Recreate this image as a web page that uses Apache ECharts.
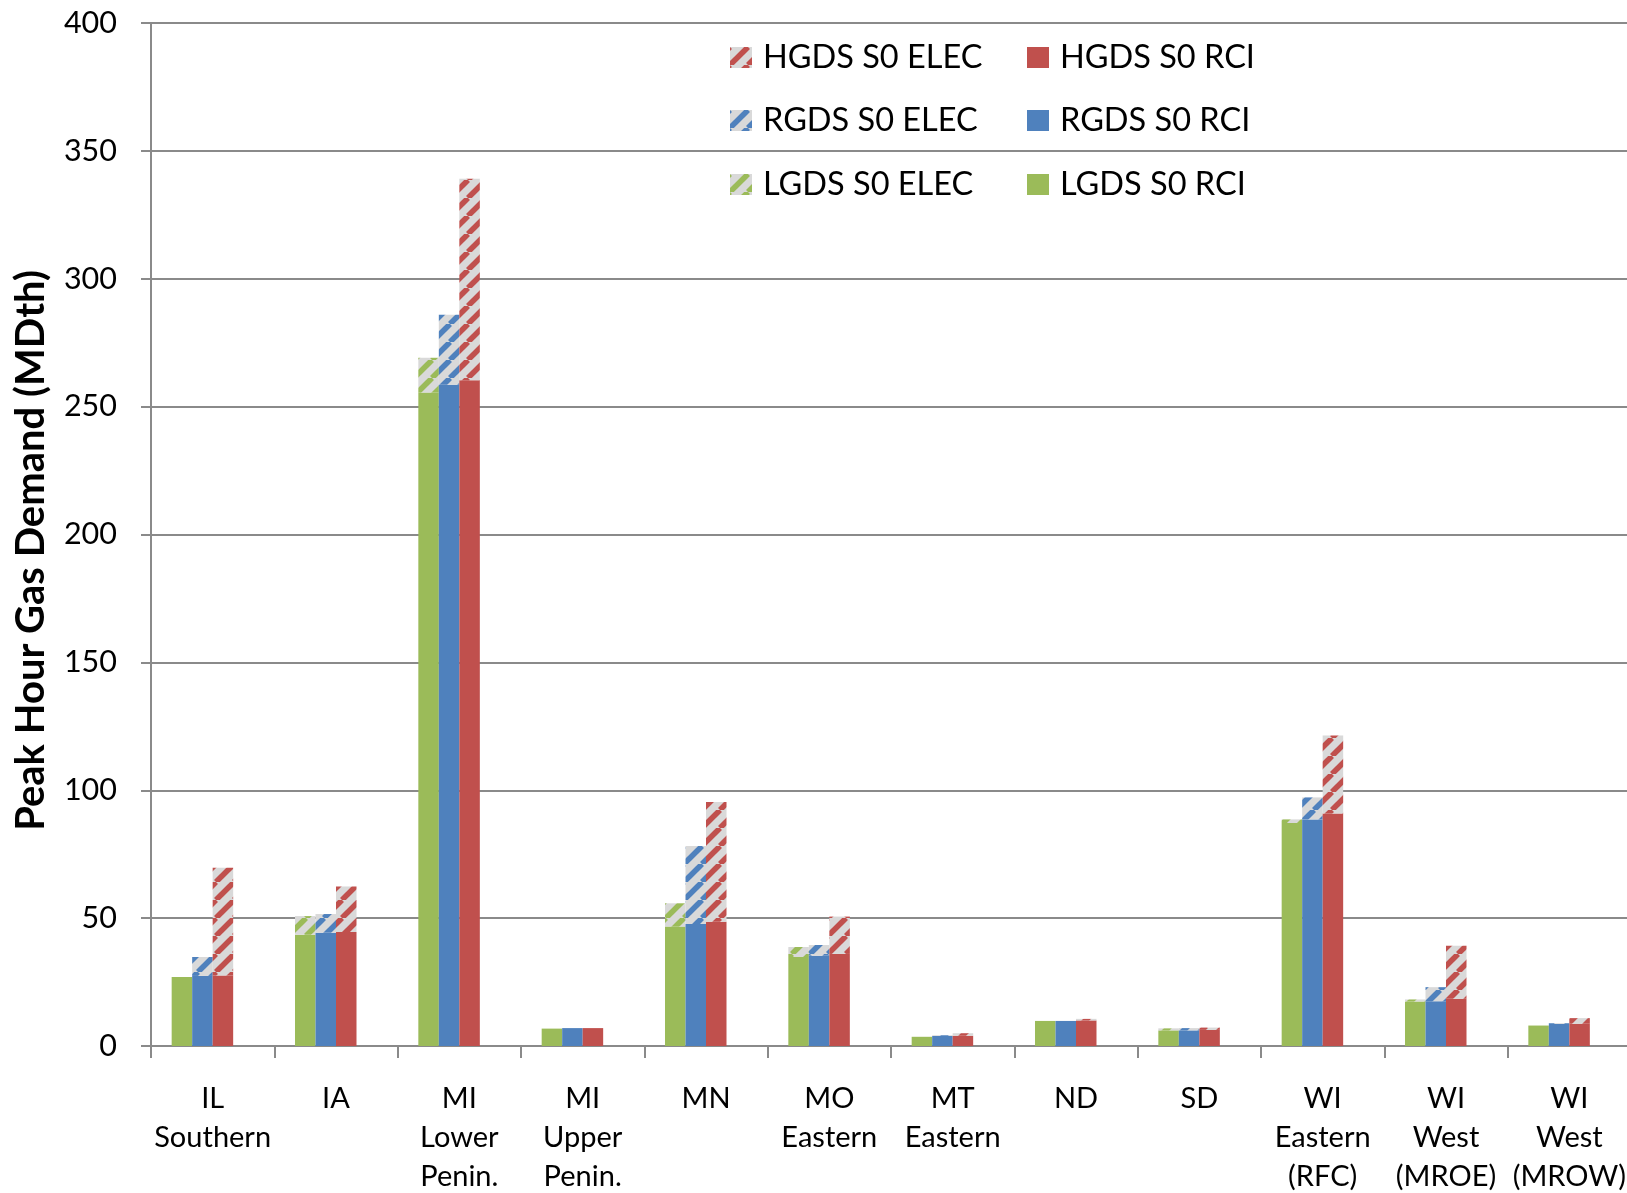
<!DOCTYPE html>
<html>
<head>
<meta charset="utf-8">
<script src="https://cdn.jsdelivr.net/npm/echarts@6/dist/echarts.min.js"></script>
<style>
html,body{margin:0;padding:0;background:#fff;}
#chart{width:1627px;height:1193px;}
</style>
</head>
<body>
<div id="chart"></div>
<script>
const categories = ['IL\nSouthern','IA','MI\nLower\nPenin.','MI\nUpper\nPenin.','MN','MO\nEastern','MT\nEastern','ND','SD','WI\nEastern\n(RFC)','WI\nWest\n(MROE)','WI\nWest\n(MROW)'];
const lgdsRCI  = [27.0, 43.5, 255.5, 6.8, 46.7, 34.8, 3.6, 9.8, 6.1, 87.2, 17.4, 8.0];
const lgdsELEC = [0,    7.3,  13.6,  0,   9.1,  3.9,  0,   0,   0.8, 1.4,  0.8,  0];
const rgdsRCI  = [27.4, 44.3, 258.6, 7.0, 47.7, 35.3, 3.9, 9.8, 6.1, 88.6, 17.5, 8.6];
const rgdsELEC = [7.4,  7.3,  27.3,  0,   30.5, 4.2,  0.3, 0,   0.9, 8.6,  5.5,  0.3];
const hgdsRCI  = [27.6, 44.6, 260.3, 7.0, 48.6, 36.0, 4.0, 10.0, 6.3, 90.9, 18.5, 8.7];
const hgdsELEC = [42.1, 17.8, 78.8,  0,   46.8, 14.6, 1.0, 0.6, 0.9, 30.5, 20.7, 2.2];
const yTicks = [0, 50, 100, 150, 200, 250, 300, 350, 400];

const GREEN = '#9BBB59', BLUE = '#4F81BD', RED = '#C0504D';
const FONT = 'Lato';

function stripes(color) {
  const P = 18;
  const c = document.createElement('canvas');
  c.width = P; c.height = P;
  const g = c.getContext('2d');
  g.fillStyle = '#d9d9d9';
  g.fillRect(0, 0, P, P);
  g.strokeStyle = color;
  g.lineWidth = 5.5;
  for (const x0 of [-P, 0, P]) {
    g.beginPath();
    g.moveTo(x0, P);
    g.lineTo(x0 + P, 0);
    g.stroke();
  }
  return { image: c, repeat: 'repeat' };
}

const BW = 20.5;
function bar(name, stack, data, color) {
  return { name, type: 'bar', stack, data, barWidth: BW, barGap: '0%',
           itemStyle: { color }, emphasis: { disabled: true } };
}

const series = [
  bar('LGDS S0 RCI', 'L', lgdsRCI, GREEN),
  bar('LGDS S0 ELEC', 'L', lgdsELEC, stripes(GREEN)),
  bar('RGDS S0 RCI', 'R', rgdsRCI, BLUE),
  bar('RGDS S0 ELEC', 'R', rgdsELEC, stripes(BLUE)),
  bar('HGDS S0 RCI', 'H', hgdsRCI, RED),
  bar('HGDS S0 ELEC', 'H', hgdsELEC, stripes(RED)),
  { name: 'spacer', type: 'bar', stack: 'D', data: categories.map(() => 0), barWidth: BW, barGap: '0%',
    itemStyle: { color: 'rgba(0,0,0,0)' }, silent: true }
];

function leg(name, left, top) {
  return { data: [name], left, top, padding: 0, itemWidth: 22, itemHeight: 21, itemGap: 0,
           icon: 'rect', selectedMode: false,
           textStyle: { fontFamily: FONT, fontSize: 32.5, color: '#000', padding: [0, 0, 0, 6], lineHeight: 21 } };
}

const chart = echarts.init(document.getElementById('chart'), null, { renderer: 'canvas' });
chart.setOption({
  animation: false,
  backgroundColor: '#fff',
  grid: { left: 151, right: -4, top: 23, bottom: 147, containLabel: false, outerBoundsMode: 'none' },
  legend: [
    leg('HGDS S0 ELEC', 730, 41),
    leg('HGDS S0 RCI', 1027, 41),
    leg('RGDS S0 ELEC', 730, 104),
    leg('RGDS S0 RCI', 1027, 104),
    leg('LGDS S0 ELEC', 730, 168),
    leg('LGDS S0 RCI', 1027, 168)
  ],
  xAxis: {
    type: 'category', data: categories,
    axisLine: { lineStyle: { color: '#8a8a8a', width: 2 } },
    axisTick: { show: true, interval: 0, length: 12, lineStyle: { color: '#8a8a8a', width: 2 } },
    axisLabel: { interval: 0, margin: 33, fontFamily: FONT, fontSize: 29, lineHeight: 39, color: '#000' }
  },
  yAxis: {
    type: 'value', min: yTicks[0], max: yTicks[yTicks.length - 1], interval: 50,
    name: 'Peak Hour Gas Demand (MDth)', nameLocation: 'middle', nameGap: 100,
    nameTextStyle: { fontFamily: FONT, fontSize: 40, fontWeight: 'bold', color: '#000', padding: [0, 32, 0, 0] },
    axisLine: { show: true, lineStyle: { color: '#8a8a8a', width: 2 } },
    axisTick: { show: true, length: 10, lineStyle: { color: '#8a8a8a', width: 2 } },
    splitLine: { lineStyle: { color: '#8a8a8a', width: 2 } },
    axisLabel: { margin: 34, fontFamily: FONT, fontSize: 30.5, color: '#000' }
  },
  series
});
</script>
</body>
</html>
